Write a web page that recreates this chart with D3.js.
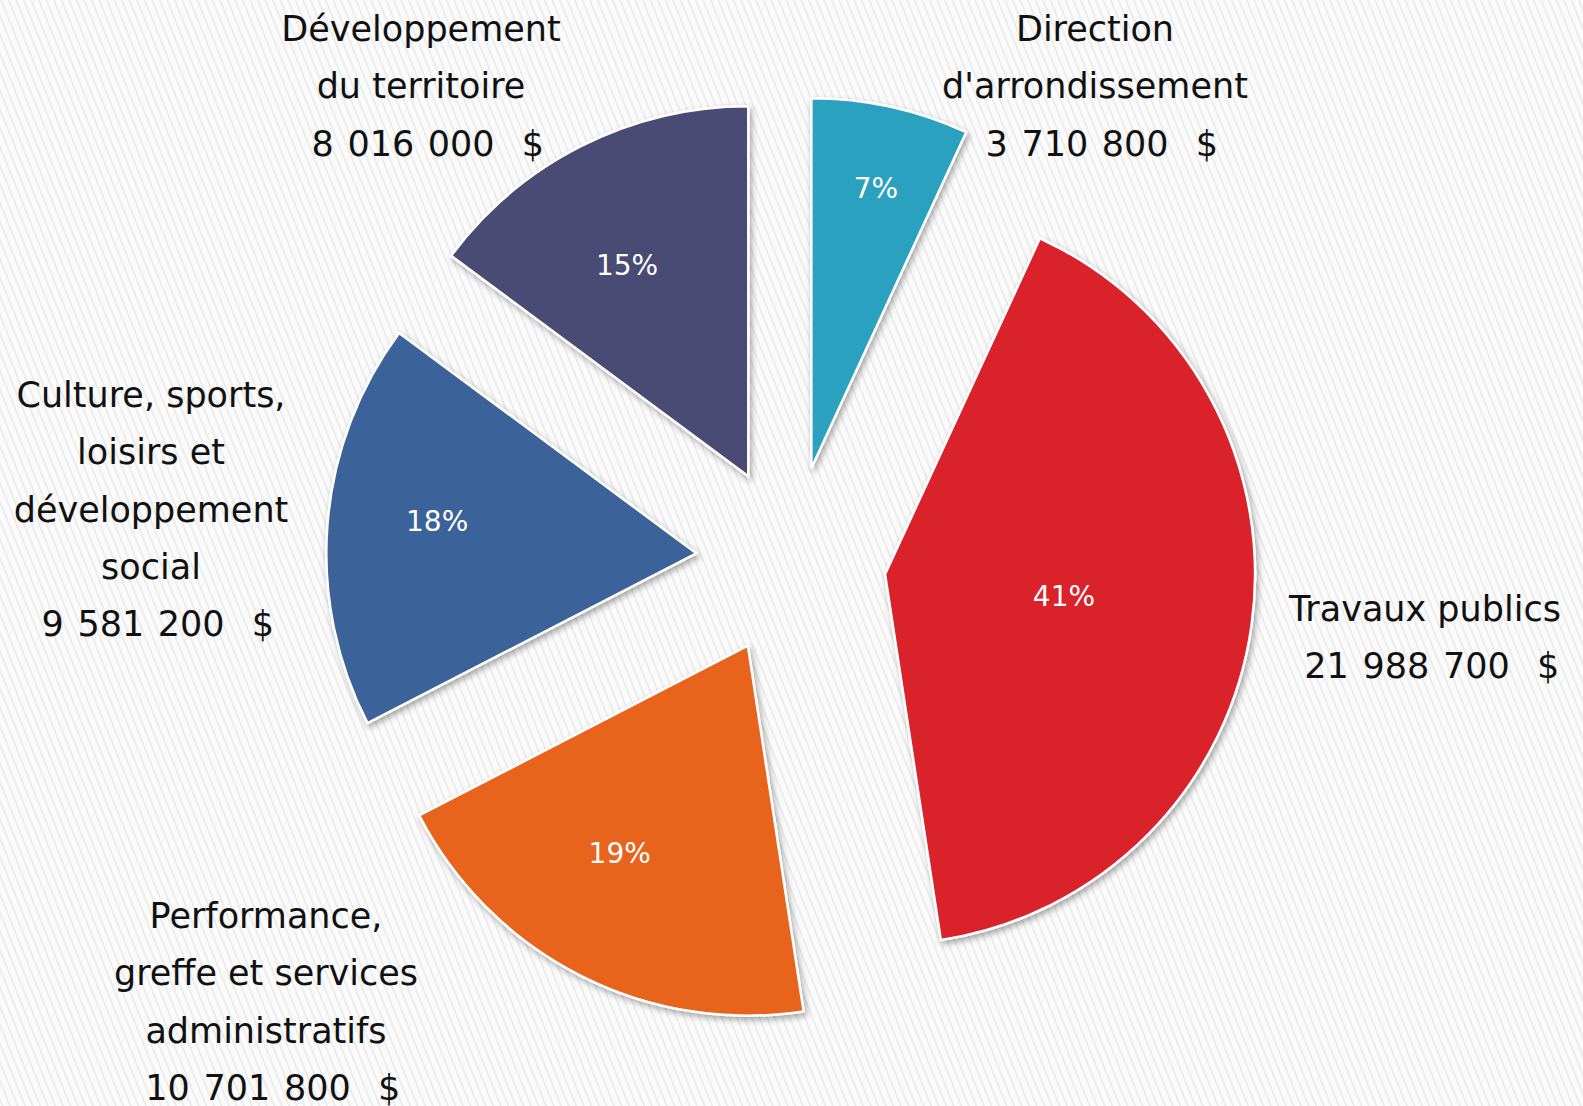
<!DOCTYPE html>
<html>
<head>
<meta charset="utf-8">
<script src="https://cdn.jsdelivr.net/npm/d3@7"></script>
<style>
  html, body { margin: 0; padding: 0; background: #fafafa; }
  svg { display: block; }
</style>
</head>
<body>
<div id="pie-chart"></div>
<script>
// budget par service (ordre horaire à partir de midi)
const categories = [
    ["Direction", "d'arrondissement"],
    ["Travaux publics"],
    ["Performance,", "greffe et services", "administratifs"],
    ["Culture, sports,", "loisirs et", "développement", "social"],
    ["Développement", "du territoire"]
];
const budget = [3710800, 21988700, 10701800, 9581200, 8016000];
const pctLabels = ["7%", "41%", "19%", "18%", "15%"];

const colours = ["#2ca1be", "#d9202a", "#e8641e", "#3a6399", "#494c75"];

// layout of the text (not data)
const labelPos = [[1095, 41], [1425, 621], [266, 928], [151, 407], [421, 41]];
const pctRadius = [0.778, 0.487, 0.659, 0.706, 0.659];
const pctTurn = [0.6, -1.1, 4.7, 2.5, -3.1]; // degrees off the middle angle

const width = 1583;
const height = 1106;
const cx = 791, cy = 561;
const radius = 370;
const explode = 95;
const lineH = 57.3;
const font = "'DejaVu Sans', Verdana, sans-serif";

const fr = d3.formatLocale({ decimal: ",", thousands: "\u00a0", grouping: [3], currency: ["", " $"] });
const fmt = fr.format(",");

let svg = d3.select("#pie-chart").append("svg")
    .attr("width", width)
    .attr("height", height);

let defs = svg.append("defs");

// striped background
let pat = defs.append("pattern")
    .attr("id", "stripes")
    .attr("patternUnits", "userSpaceOnUse")
    .attr("width", 7)
    .attr("height", 7)
    .attr("patternTransform", "rotate(-22)");
pat.append("rect").attr("width", 7).attr("height", 7).attr("fill", "#fbfbfb");
pat.append("rect").attr("width", 2).attr("height", 7).attr("fill", "#ececec");

let shadow = defs.append("filter")
    .attr("id", "shadow")
    .attr("x", "-20%").attr("y", "-20%")
    .attr("width", "140%").attr("height", "140%");
shadow.append("feDropShadow")
    .attr("dx", 2).attr("dy", 3)
    .attr("stdDeviation", 3)
    .attr("flood-color", "#000")
    .attr("flood-opacity", 0.35);

svg.append("rect")
    .attr("width", width)
    .attr("height", height)
    .attr("fill", "url(#stripes)");

const pie = d3.pie().sort(null).value(d => d);
const arcs = pie(budget);

const arc = d3.arc().innerRadius(0).outerRadius(radius);
const midAngle = d => (d.startAngle + d.endAngle) / 2;

let group = svg.append("g")
    .attr("transform", `translate(${cx}, ${cy})`);

// slices pushed out along their middle angle
let slices = group.selectAll("g.slice")
    .data(arcs)
    .enter()
    .append("g")
    .attr("class", "slice")
    .attr("transform", d => `translate(${Math.sin(midAngle(d)) * explode}, ${-Math.cos(midAngle(d)) * explode})`);

slices.append("path")
    .attr("d", arc)
    .attr("fill", (d, i) => colours[i])
    .attr("stroke", "#ffffff")
    .attr("stroke-width", 2.5)
    .attr("filter", "url(#shadow)");

// percentages inside
const pctAngle = (d, i) => midAngle(d) + pctTurn[i] * Math.PI / 180;
slices.append("text")
    .attr("x", (d, i) => Math.sin(pctAngle(d, i)) * radius * pctRadius[i])
    .attr("y", (d, i) => -Math.cos(pctAngle(d, i)) * radius * pctRadius[i])
    .attr("dy", "0.36em")
    .attr("text-anchor", "middle")
    .style("font-family", font)
    .style("font-size", "28px")
    .attr("fill", "#ffffff")
    .text((d, i) => pctLabels[i]);

// category labels outside
let labels = svg.append("g")
    .selectAll("text")
    .data(categories)
    .enter()
    .append("text")
    .attr("text-anchor", "middle")
    .style("font-family", font)
    .style("font-size", "35px")
    .style("white-space", "pre")
    .attr("fill", "#111111");

labels.each(function (lines, i) {
    const t = d3.select(this);
    lines.forEach((ln, j) => {
        t.append("tspan")
            .attr("x", labelPos[i][0])
            .attr("y", labelPos[i][1] + j * lineH)
            .text(ln);
    });
    // montant
    t.append("tspan")
        .attr("x", labelPos[i][0])
        .attr("y", labelPos[i][1] + lines.length * lineH)
        .style("word-spacing", "2.5px")
        .text(" " + fmt(budget[i]) + "  $");
});
</script>
</body>
</html>
